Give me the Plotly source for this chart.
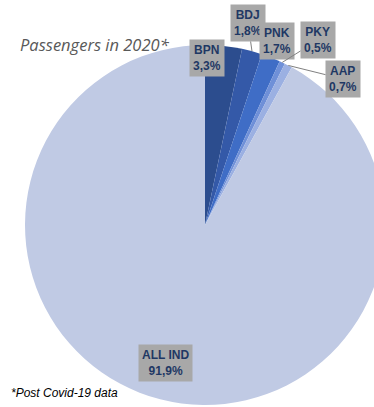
import math
import plotly.graph_objects as go

labels = ["BPN", "BDJ", "PNK", "PKY", "AAP", "ALL IND"]
values = [3.3, 1.8, 1.7, 0.5, 0.7, 91.9]
colors = ["#2c4d8e", "#3459a8", "#3f6dc6", "#6f90d8", "#9bb0e2", "#c0cae4"]

W, H = 386, 407
CX, CY, R = 205, 225, 180  # pixel centre / radius of pie

fig = go.Figure()
fig.add_trace(go.Pie(
    labels=labels, values=values, sort=False, direction="clockwise", rotation=0,
    marker=dict(colors=colors, line=dict(width=0)),
    textinfo="none", hoverinfo="skip", showlegend=False,
    domain=dict(x=[(CX - R) / W, (CX + R) / W], y=[1 - (CY + R) / H, 1 - (CY - R) / H]),
))

# label box centres (pixel) and whether they use a leader line
boxes = {
    "BPN": (207, 39, False),
    "BDJ": (248, 23, True),
    "PNK": (277, 41, True),
    "PKY": (318, 40, True),
    "AAP": (343, 79, True),
    "ALL IND": (165, 382, False),
}

FONT = dict(family="Arial, Liberation Sans", size=12, color="#1f3864")

def box_text(lab, v):
    return "<b>%s<br>%s%%</b>" % (lab, ("%.1f" % v).replace(".", ","))

total = sum(values)
cum = 0.0
for lab, v in zip(labels, values):
    mid = (cum + v / 2) / total * 2 * math.pi
    cum += v
    ex = CX + R * math.sin(mid)
    ey = CY - R * math.cos(mid)
    bx, by, line = boxes[lab]
    common = dict(
        xref="paper", yref="paper", text=box_text(lab, v), align="center",
        font=FONT, bgcolor="#a8a8a8", borderpad=3,
    )
    if line:
        fig.add_annotation(
            x=ex / W, y=1 - ey / H, ax=bx - ex, ay=by - ey, axref="pixel", ayref="pixel",
            showarrow=True, arrowhead=0, arrowwidth=1, arrowcolor="#808080", **common)
    else:
        fig.add_annotation(x=bx / W, y=1 - by / H, showarrow=False, **common)

fig.add_annotation(
    x=18 / W, y=1 - 44 / H, xref="paper", yref="paper", xanchor="left", yanchor="middle",
    text="<i>Passengers in 2020*</i>", showarrow=False,
    font=dict(family="Open Sans", size=16.5, color="#595959"))
fig.add_annotation(
    x=9 / W, y=1 - 393 / H, xref="paper", yref="paper", xanchor="left", yanchor="middle",
    text="<i>*Post Covid-19 data</i>", showarrow=False,
    font=dict(family="Arial, Liberation Sans", size=12, color="#000000"))

fig.update_layout(
    width=W, height=H, margin=dict(l=0, r=0, t=0, b=0),
    paper_bgcolor="white", plot_bgcolor="white",
)

fig.write_html("out.html", config={"displayModeBar": False},
               post_script="document.documentElement.style.overflow='hidden';document.body.style.overflow='hidden';")
